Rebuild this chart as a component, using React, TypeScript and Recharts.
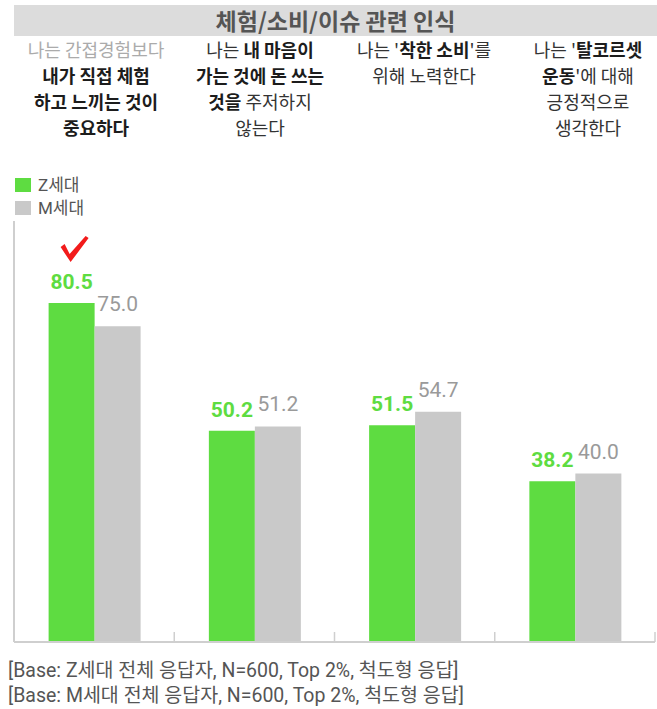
import { BarChart, Bar, XAxis, YAxis, Legend, LabelList } from "recharts";

const CATEGORIES = ["직접 체험", "마음이 가는 것", "착한 소비", "탈코르셋 운동"];
const Z_VALUES = [80.5, 50.2, 51.5, 38.2];
const M_VALUES = [75.0, 51.2, 54.7, 40.0];
const HIGHLIGHT = [true, false, false, false];
const SERIES_NAMES = ["Z세대", "M세대"];

type Seg = { t: string; b?: boolean; c?: string };
const HEADER_LINES: Seg[][][] = [
  [
    [{ t: "나는 간접경험보다", c: "#ababab" }],
    [{ t: "내가 직접 체험", b: true }],
    [{ t: "하고 느끼는 것이", b: true }],
    [{ t: "중요하다", b: true }],
  ],
  [
    [{ t: "나는 " }, { t: "내 마음이", b: true }],
    [{ t: "가는 것에 돈 쓰는", b: true }],
    [{ t: "것을", b: true }, { t: " 주저하지" }],
    [{ t: "않는다" }],
  ],
  [
    [{ t: "나는 '" }, { t: "착한 소비", b: true }, { t: "'를" }],
    [{ t: "위해 노력한다" }],
  ],
  [
    [{ t: "나는 '" }, { t: "탈코르셋", b: true }],
    [{ t: "운동", b: true }, { t: "'에 대해" }],
    [{ t: "긍정적으로" }],
    [{ t: "생각한다" }],
  ],
];
const FOOTNOTES = [
  "[Base: Z세대 전체 응답자, N=600, Top 2%, 척도형 응답]",
  "[Base: M세대 전체 응답자, N=600, Top 2%, 척도형 응답]",
];

const DATA = CATEGORIES.map((name, i) => ({
  name,
  z: Z_VALUES[i],
  m: M_VALUES[i],
}));

const GREEN = "#5edc41";
const GRAY = "#c9c9c9";
const AXIS = "#cfcfcf";
const KR = "'Noto Sans CJK KR', 'Noto Sans', sans-serif";
const MIXED = "Roboto, 'Noto Sans CJK KR', sans-serif";

function HeaderTick(props: any) {
  const idx = CATEGORIES.indexOf(props.payload?.value);
  const lines = HEADER_LINES[idx] || [];
  return (
    <g>
      {lines.map((segs, i) => (
        <text key={i} x={props.x} y={57 + i * 26} textAnchor="middle" fontSize={18} fontFamily={KR}>
          {segs.map((s, j) => (
            <tspan key={j} fontWeight={s.b ? 700 : 400} fill={s.c ?? (s.b ? "#1c1c1c" : "#333")}>
              {s.t}
            </tspan>
          ))}
        </text>
      ))}
    </g>
  );
}

// small upward tick at the right edge of each category band
function BoundaryTick(props: any) {
  const bx = props.x + (props.payload?.offset ?? 0);
  return <line x1={bx} x2={bx} y1={props.y} y2={props.y - 10} stroke={AXIS} strokeWidth={1.5} />;
}

function CheckMark(props: any) {
  const { x, y, width, index } = props;
  if (!HIGHLIGHT[index]) return null;
  const cx = x + width / 2 + 3;
  const cy = y - 53;
  const pts = [
    [-14, -3], [-10, -6], [-5, 4], [11, -14], [14, -12], [-4, 12],
  ]
    .map(([dx, dy]) => `${cx + dx},${cy + dy}`)
    .join(" ");
  return <polygon points={pts} fill="#f21b1b" />;
}

function LegendBox(props: any) {
  const items = [...(props.payload || [])].sort(
    (a: any, b: any) => SERIES_NAMES.indexOf(a.value) - SERIES_NAMES.indexOf(b.value)
  );
  return (
    <div style={{ fontFamily: MIXED, fontSize: 17, lineHeight: "20px", color: "#555" }}>
      {items.map((p: any) => (
        <div key={p.value} style={{ display: "flex", alignItems: "center", height: 23 }}>
          <span style={{ width: 16, height: 14, background: p.color, marginRight: 7 }} />
          {p.value}
        </div>
      ))}
    </div>
  );
}

export default function App() {
  return (
    <div style={{ position: "absolute", left: 0, top: 0, width: 657, height: 709, background: "#fff" }}>
      <div
        style={{
          position: "absolute",
          left: 14,
          top: 5,
          width: 643,
          height: 31,
          background: "#dcdcdc",
          color: "#555",
          fontFamily: KR,
          fontWeight: 700,
          fontSize: 23,
          lineHeight: "31px",
          textAlign: "center",
        }}
      >
        체험/소비/이슈 관련 인식
      </div>
      <BarChart
        width={657}
        height={709}
        data={DATA}
        margin={{ top: 220, right: 2, bottom: 66, left: 13 }}
        barCategoryGap="21.6%"
        barGap={0}
      >
        <XAxis
          xAxisId="head"
          dataKey="name"
          orientation="top"
          height={1}
          axisLine={false}
          tickLine={false}
          interval={0}
          padding={{ left: 0, right: -15 }}
          tick={<HeaderTick />}
        />
        <XAxis
          xAxisId="cat"
          dataKey="name"
          height={1}
          interval={0}
          tickSize={0}
          tickMargin={0}
          tickLine={false}
          tick={<BoundaryTick />}
          axisLine={{ stroke: AXIS, strokeWidth: 2 }}
        />
        <YAxis domain={[0, 100]} width={1} tick={false} tickLine={false} axisLine={{ stroke: AXIS, strokeWidth: 2 }} />
        <Legend
          layout="horizontal"
          verticalAlign="middle"
          align="center"
          wrapperStyle={{ top: 173, left: 15, width: 120 }}
          content={<LegendBox />}
        />
        <Bar xAxisId="cat" dataKey="z" name="Z세대" fill={GREEN} isAnimationActive={false}>
          <LabelList
            dataKey="z"
            position="top"
            offset={14}
            formatter={(v: any) => Number(v).toFixed(1)}
            style={{ fill: GREEN, fontWeight: 700, fontSize: 21, fontFamily: "Roboto" }}
          />
          <LabelList dataKey="z" content={<CheckMark />} />
        </Bar>
        <Bar xAxisId="cat" dataKey="m" name="M세대" fill={GRAY} isAnimationActive={false}>
          <LabelList
            dataKey="m"
            position="top"
            offset={15}
            formatter={(v: any) => Number(v).toFixed(1)}
            style={{ fill: "#9a9a9a", fontSize: 21, fontFamily: "Roboto" }}
          />
        </Bar>
      </BarChart>
      <div
        style={{
          position: "absolute",
          left: 8,
          top: 658,
          fontFamily: MIXED,
          fontSize: 19.5,
          lineHeight: "25px",
          color: "#555",
          whiteSpace: "nowrap",
        }}
      >
        {FOOTNOTES.map((f) => (
          <div key={f}>{f}</div>
        ))}
      </div>
    </div>
  );
}
